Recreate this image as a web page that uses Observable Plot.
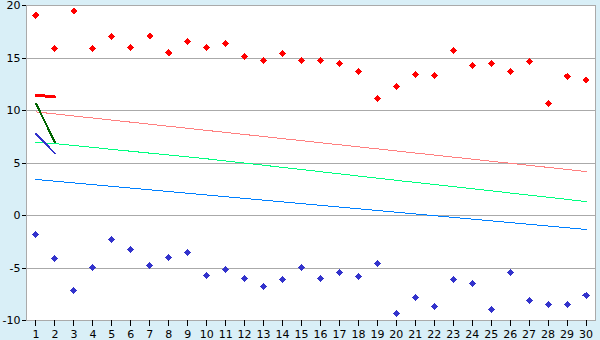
<!DOCTYPE html>
<html>
<head>
<meta charset="utf-8">
<script src="https://cdn.jsdelivr.net/npm/d3@7"></script>
<script src="https://cdn.jsdelivr.net/npm/@observablehq/plot@0.6"></script>
<style>
  html, body { margin: 0; padding: 0; background: #d9eff7; }
  #chart svg { display: block; shape-rendering: crispEdges; }
</style>
</head>
<body>
<div id="chart"></div>
<script>
const days = [1,2,3,4,5,6,7,8,9,10,11,12,13,14,15,16,17,18,19,20,21,22,23,24,25,26,27,28,29,30];
const yTicks = [-10,-5,0,5,10,15,20];

const redPoints = [19.05,15.9,19.5,15.9,17.05,16.0,17.1,15.5,16.57,16.0,16.38,15.14,14.76,15.43,14.76,14.76,14.48,13.71,11.14,12.28,13.43,13.33,15.71,14.29,14.48,13.71,14.67,10.67,13.24,12.86];
const bluePoints = [-1.81,-4.1,-7.14,-4.95,-2.29,-3.24,-4.76,-4.0,-3.52,-5.71,-5.14,-6.0,-6.76,-6.1,-4.95,-6.0,-5.43,-5.81,-4.57,-9.33,-7.81,-8.67,-6.1,-6.48,-8.95,-5.43,-8.1,-8.48,-8.48,-7.62];

const pinkLineX = [1,30];
const pinkLineY = [9.87,4.19];
const greenLineX = [1,2,5,10,15,20,25,30];
const greenLineY = [6.95,6.85,6.3,5.4,4.38,3.35,2.35,1.33];
const blueLineX = [1,30];
const blueLineY = [3.43,-1.33];

const shortRedX = [1,2];
const shortRedY = [11.46,11.29];
const darkGreenX = [1,2];
const darkGreenY = [10.67,6.95];
const shortBlueX = [1,2];
const shortBlueY = [7.77,5.9];

const pts = (xs, ys) => xs.map((x, i) => ({x, y: ys[i]}));

const chart = Plot.plot({
  width: 600,
  height: 340,
  marginLeft: 26,
  marginRight: 5,
  marginTop: 5,
  marginBottom: 20,
  style: {fontFamily: "DejaVu Sans", fontSize: "11px", background: "#d9eff7", color: "#000"},
  x: {domain: [0.5, 30.5]},
  y: {domain: [-10, 20]},
  marks: [
    Plot.frame({fill: "white", stroke: "none"}),
    Plot.gridY(yTicks, {stroke: "#aaaaaa", strokeOpacity: 1}),
    Plot.frame({stroke: "#aaaaaa"}),
    Plot.axisY(yTicks, {tickSize: 4, tickPadding: 2, label: null, stroke: "#000", tickFormat: d => String(d)}),
    Plot.axisX(days, {tickSize: 6, tickPadding: 4, label: null, stroke: "#000", tickFormat: d => String(d)}),
    Plot.line(pts(pinkLineX, pinkLineY), {x: "x", y: "y", stroke: "#ff8080", strokeWidth: 1}),
    Plot.line(pts(greenLineX, greenLineY), {x: "x", y: "y", stroke: "#00ff80", strokeWidth: 1}),
    Plot.line(pts(blueLineX, blueLineY), {x: "x", y: "y", stroke: "#0080ff", strokeWidth: 1}),
    Plot.line(pts(shortRedX, shortRedY), {x: "x", y: "y", stroke: "#ff0000", strokeWidth: 3}),
    Plot.line(pts(darkGreenX, darkGreenY), {x: "x", y: "y", stroke: "#006400", strokeWidth: 2}),
    Plot.line(pts(shortBlueX, shortBlueY), {x: "x", y: "y", stroke: "#3333cc", strokeWidth: 2}),
    Plot.dot(pts(days, redPoints), {x: "x", y: "y", symbol: "square", rotate: 45, fill: "#ff0000", stroke: "none", r: 2.8}),
    Plot.dot(pts(days, bluePoints), {x: "x", y: "y", symbol: "square", rotate: 45, fill: "#3333cc", stroke: "none", r: 2.8})
  ]
});
document.getElementById("chart").appendChild(chart);
</script>
</body>
</html>
